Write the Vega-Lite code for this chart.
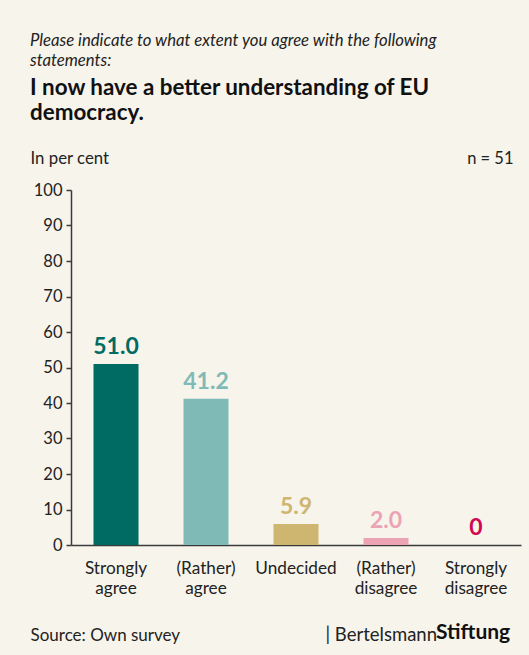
{
  "$schema": "https://vega.github.io/schema/vega-lite/v6.json",
  "width": 450,
  "height": 355,
  "autosize": {"type": "none"},
  "padding": {"left": 71, "top": 190, "right": 8, "bottom": 110},
  "background": "#f7f4ec",
  "config": {
    "font": "Lato",
    "view": {"stroke": null},
    "axis": {"labelFont": "Lato", "titleFont": "Lato", "labelColor": "#222222", "titleColor": "#222222", "grid": false, "domainColor": "#3a3a3a", "tickColor": "#3a3a3a", "titleFontWeight": "normal"}
  },
  "title": {
    "text": ["Please indicate to what extent you agree with the following", "statements:"],
    "subtitle": ["I now have a better understanding of EU", "democracy."],
    "anchor": "start",
    "frame": "group",
    "dx": -41,
    "offset": 26,
    "font": "Lato",
    "fontSize": 16.7,
    "fontStyle": "italic",
    "fontWeight": "normal",
    "color": "#222222",
    "lineHeight": 20,
    "subtitleFont": "Lato",
    "subtitleFontSize": 22.4,
    "subtitleFontWeight": "bold",
    "subtitleColor": "#111111",
    "subtitleLineHeight": 25,
    "subtitlePadding": 7
  },
  "data": {
    "values": [
      {"category": "Strongly agree", "value": 51.0, "label": "51.0"},
      {"category": "(Rather) agree", "value": 41.2, "label": "41.2"},
      {"category": "Undecided", "value": 5.9, "label": "5.9"},
      {"category": "(Rather) disagree", "value": 2.0, "label": "2.0"},
      {"category": "Strongly disagree", "value": 0, "label": "0"}
    ]
  },
  "resolve": {"scale": {"x": "independent", "y": "independent"}, "axis": {"x": "independent", "y": "independent"}},
  "layer": [
    {
      "encoding": {
        "x": {
          "field": "category", "type": "nominal", "sort": null,
          "scale": {"paddingInner": 0.5, "paddingOuter": 0.25},
          "axis": {
            "orient": "bottom", "ticks": false, "labelAngle": 0, "labelFontSize": 17.2, "labelLineHeight": 20,
            "labelPadding": 14, "labelBaseline": "top", "labelExpr": "split(datum.label, ' ')",
            "domainWidth": 1.5, "labelOverlap": false,
            "title": "Source: Own survey", "titleFontSize": 17, "titleX": -41, "titleY": 95,
            "titleAlign": "left", "titleAnchor": null, "titleBaseline": "alphabetic", "titleAngle": 0
          }
        },
        "y": {
          "field": "value", "type": "quantitative",
          "scale": {"domain": [0, 100], "nice": false},
          "axis": {
            "orient": "left", "values": [0,10,20,30,40,50,60,70,80,90,100], "tickSize": 5, "labelFontSize": 16.5, "labelPadding": 4,
            "domainWidth": 1.5, "tickWidth": 1.5, "labelOverlap": false,
            "title": "In per cent", "titleFontSize": 16.8, "titleAngle": 0, "titleX": -41, "titleY": -27,
            "titleAlign": "left", "titleBaseline": "alphabetic"
          }
        },
        "color": {
          "field": "category", "type": "nominal", "sort": null,
          "scale": {"domain": ["Strongly agree", "(Rather) agree", "Undecided", "(Rather) disagree", "Strongly disagree"],
                    "range": ["#006b63", "#80bab6", "#ceb670", "#eca3b3", "#cf0a50"]},
          "legend": {
            "orient": "none", "legendX": 365, "legendY": 432, "title": "Stiftung", "titleFontSize": 21, "titleFontWeight": "bold",
            "titleFont": "Lato", "titleColor": "#111111", "padding": 0, "symbolOpacity": 0, "symbolSize": 0, "labelOpacity": 0, "labelFontSize": 1,
            "labelExpr": "''", "titleBaseline": "top"
          }
        }
      },
      "layer": [
        {"mark": {"type": "bar"}},
        {
          "mark": {"type": "text", "fontSize": 23, "fontWeight": "bold", "font": "Lato", "baseline": "alphabetic", "dy": -10},
          "encoding": {"text": {"field": "label"}}
        }
      ]
    },
    {
      "mark": {"type": "point", "opacity": 0},
      "encoding": {
        "x": {
          "field": "category", "type": "nominal", "sort": null,
          "axis": {"orient": "top", "labels": false, "ticks": false, "domain": false,
                   "title": "| Bertelsmann", "titleFontSize": 18.5, "titleX": 254, "titleY": 450, "titleAlign": "left",
                   "titleBaseline": "alphabetic", "titleAngle": 0, "titleAnchor": null}
        },
        "y": {
          "field": "value", "type": "quantitative",
          "axis": {"orient": "right", "labels": false, "ticks": false, "domain": false,
                   "title": "n = 51", "titleFontSize": 16.5, "titleAngle": 0, "titleX": -8, "titleY": -27,
                   "titleAlign": "right", "titleBaseline": "alphabetic"}
        }
      }
    }
  ]
}
